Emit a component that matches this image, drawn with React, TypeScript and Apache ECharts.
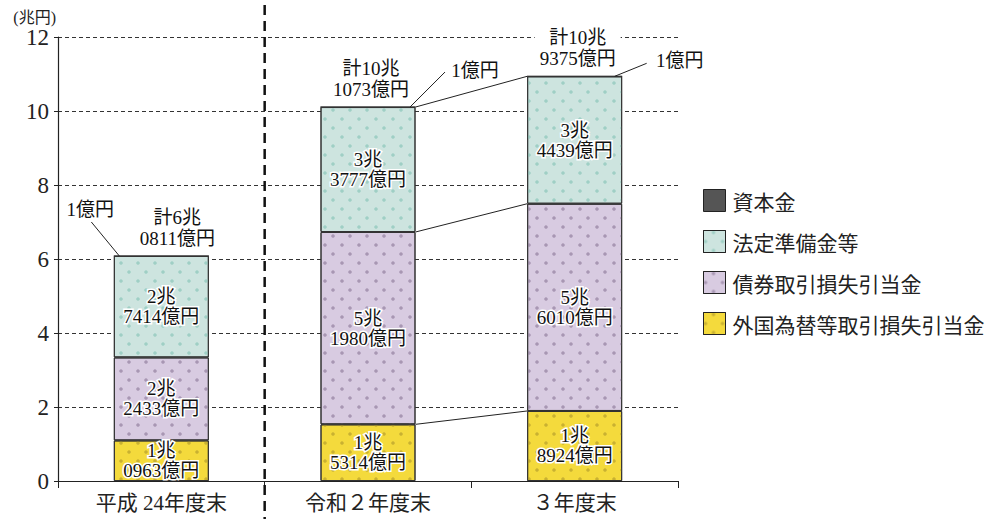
import React, { useEffect, useRef } from "react";
import * as echarts from "echarts";

// 引当金・準備金の残高（単位：億円）
const categories = ["平成 24年度末", "令和２年度末", "３年度末"];
const fxReserve = [10963, 15314, 18924]; // 外国為替等取引損失引当金
const bondReserve = [22433, 51980, 56010]; // 債券取引損失引当金
const legalReserve = [27414, 33777, 34439]; // 法定準備金等
const capital = [1, 1, 1]; // 資本金
const totals = [60811, 101073, 109375]; // 計

const seriesNames = ["外国為替等取引損失引当金", "債券取引損失引当金", "法定準備金等", "資本金"];
const legendOrder = ["資本金", "法定準備金等", "債券取引損失引当金", "外国為替等取引損失引当金"];

const yMin = 0;
const yMax = 12;
const yInterval = 2;

const SERIF = "Liberation Serif, Noto Sans CJK JP, serif";
const SANS_JP = "Noto Sans CJK JP, Noto Sans, sans-serif";

const GRID_LEFT = 58;
const GRID_RIGHT = 312;
const GRID_TOP = 37;
const GRID_BOTTOM = 38;
const WIDTH = 990;
const HEIGHT = 519;
const BAR_W = 95;
const HALF = BAR_W / 2;

// 億円 -> 兆円
const toCho = (v: number) => v / 10000;

// "1兆\n0963億円" style text
const fmtOku = (oku: number, prefix = "") => {
  const cho = Math.floor(oku / 10000);
  const rest = oku % 10000;
  if (cho === 0) return `${prefix}${rest}億円`;
  return `${prefix}${cho}兆\n${String(rest).padStart(4, "0")}億円`;
};

const dotDecal = (dot: string) => ({
  symbol: "circle",
  symbolSize: 0.9,
  color: dot,
  dashArrayX: [
    [4, 13],
    [0, 8, 4, 5],
  ],
  dashArrayY: [4, 5],
  rotation: 0,
});

const segLabel = (values: number[]) => ({
  show: true,
  position: "inside",
  formatter: (p: any) => fmtOku(values[p.dataIndex]),
  fontFamily: SERIF,
  fontSize: 19,
  lineHeight: 20,
  color: "#111",
  textBorderColor: "#fff",
  textBorderWidth: 3,
});

// leader-line offsets for the "1億円" capital call-outs, relative to the bar top centre
const calloutLayout = [
  { end: [-42, 0], start: [-70, -34], text: [-71, -46] },
  { end: [42, 0], start: [77, -35], text: [107, -37] },
  { end: [40, 0], start: [72, -13], text: [105, -16] },
];
const totalLabelShift = [16, 3, 3];

export default function App() {
  const ref = useRef<HTMLDivElement>(null);

  useEffect(() => {
    document.body.style.margin = "0";
    if (!ref.current) return;
    const chart = echarts.init(ref.current, undefined, { renderer: "svg" });

    const stackTop = (i: number) => toCho(fxReserve[i] + bondReserve[i] + legalReserve[i] + capital[i]);
    const boundaries = (i: number) => [
      toCho(fxReserve[i]),
      toCho(fxReserve[i] + bondReserve[i]),
      stackTop(i),
    ];
    // connectors between the 令和２年度末 and ３年度末 bars
    const connectorData = boundaries(1).map((v, k) => [1, v, 2, boundaries(2)[k]]);
    const calloutData = categories.map((_, i) => [i, stackTop(i), capital[i]]);

    const gridW = WIDTH - GRID_LEFT - GRID_RIGHT;
    const dividerX = GRID_LEFT + gridW / categories.length;

    chart.setOption({
      animation: false,
      backgroundColor: "#fff",
      textStyle: { fontFamily: SERIF },
      grid: { left: GRID_LEFT, right: GRID_RIGHT, top: GRID_TOP, bottom: GRID_BOTTOM },
      legend: {
        data: legendOrder,
        orient: "vertical",
        left: 698,
        top: 184,
        itemWidth: 22,
        itemHeight: 22,
        itemGap: 18,
        icon: "rect",
        selectedMode: false,
        itemStyle: { borderColor: "#222", borderWidth: 1 },
        textStyle: { fontFamily: SANS_JP, fontSize: 21, color: "#222", padding: [0, 0, 0, 2] },
      },
      xAxis: {
        type: "category",
        data: categories,
        axisLine: { lineStyle: { color: "#222", width: 1 } },
        axisTick: { show: true, length: 7, lineStyle: { color: "#222" } },
        axisLabel: { fontFamily: SERIF, fontSize: 21, color: "#222", margin: 11 },
        splitLine: { show: false },
      },
      yAxis: {
        type: "value",
        min: yMin,
        max: yMax,
        interval: yInterval,
        name: "(兆円)",
        nameLocation: "end",
        nameGap: 10,
        nameTextStyle: {
          fontFamily: SERIF,
          fontSize: 16,
          color: "#222",
          align: "right",
          padding: [0, 2, 0, 0],
        },
        axisLine: { show: true, lineStyle: { color: "#222", width: 1.2 } },
        axisTick: { show: true, length: 4, lineStyle: { color: "#222" } },
        axisLabel: { fontFamily: SERIF, fontSize: 23, color: "#222", margin: 9 },
        splitLine: { show: true, lineStyle: { color: "#333", width: 1, type: [4, 3] } },
      },
      series: [
        {
          name: seriesNames[0],
          type: "bar",
          stack: "total",
          barWidth: BAR_W,
          data: fxReserve.map(toCho),
          itemStyle: { color: "#f4da3c", borderColor: "#333", borderWidth: 1, decal: dotDecal("#c9b131") },
          label: segLabel(fxReserve),
        },
        {
          name: seriesNames[1],
          type: "bar",
          stack: "total",
          barWidth: BAR_W,
          data: bondReserve.map(toCho),
          itemStyle: { color: "#d8cbe1", borderColor: "#333", borderWidth: 1, decal: dotDecal("#a897b3") },
          label: segLabel(bondReserve),
        },
        {
          name: seriesNames[2],
          type: "bar",
          stack: "total",
          barWidth: BAR_W,
          data: legalReserve.map(toCho),
          itemStyle: { color: "#cde4df", borderColor: "#333", borderWidth: 1, decal: dotDecal("#9fcfc5") },
          label: segLabel(legalReserve),
        },
        {
          name: seriesNames[3],
          type: "bar",
          stack: "total",
          barWidth: BAR_W,
          data: capital.map((v, i) => ({
            value: toCho(v),
            label: { offset: [totalLabelShift[i], 0] },
          })),
          itemStyle: { color: "#555", borderColor: "#333", borderWidth: 1 },
          label: {
            show: true,
            position: "top",
            distance: 7,
            formatter: (p: any) => fmtOku(totals[p.dataIndex], "計"),
            fontFamily: SERIF,
            fontSize: 19,
            lineHeight: 21,
            color: "#111",
            backgroundColor: "#fff",
            padding: [0, 5],
          },
        },
        {
          type: "custom",
          name: "connector",
          silent: true,
          encode: { x: [0, 2], y: [1, 3] },
          data: connectorData,
          z: 3,
          renderItem: (_params: any, api: any) => {
            const a = api.coord([api.value(0), api.value(1)]);
            const b = api.coord([api.value(2), api.value(3)]);
            return {
              type: "line",
              shape: { x1: a[0] + HALF, y1: a[1], x2: b[0] - HALF, y2: b[1] },
              style: { stroke: "#222", lineWidth: 1 },
            };
          },
        },
        {
          type: "custom",
          name: "callout",
          silent: true,
          encode: { x: 0, y: 1 },
          data: calloutData,
          z: 4,
          renderItem: (params: any, api: any) => {
            const p = api.coord([api.value(0), api.value(1)]);
            const l = calloutLayout[params.dataIndex];
            return {
              type: "group",
              children: [
                {
                  type: "line",
                  shape: {
                    x1: p[0] + l.start[0],
                    y1: p[1] + l.start[1],
                    x2: p[0] + l.end[0],
                    y2: p[1] + l.end[1],
                  },
                  style: { stroke: "#222", lineWidth: 1 },
                },
                {
                  type: "text",
                  x: p[0] + l.text[0],
                  y: p[1] + l.text[1],
                  style: {
                    text: fmtOku(api.value(2)),
                    fontFamily: SERIF,
                    fontSize: 19,
                    fill: "#111",
                    align: "center",
                    verticalAlign: "middle",
                  },
                },
              ],
            };
          },
        },
      ],
      graphic: [
        {
          type: "line",
          z: 10,
          shape: { x1: dividerX, y1: 5, x2: dividerX, y2: HEIGHT },
          style: { stroke: "#111", lineWidth: 2.5, lineDash: [10, 6] },
        },
      ],
    });

    return () => chart.dispose();
  }, []);

  return <div ref={ref} style={{ width: WIDTH, height: HEIGHT }} />;
}
